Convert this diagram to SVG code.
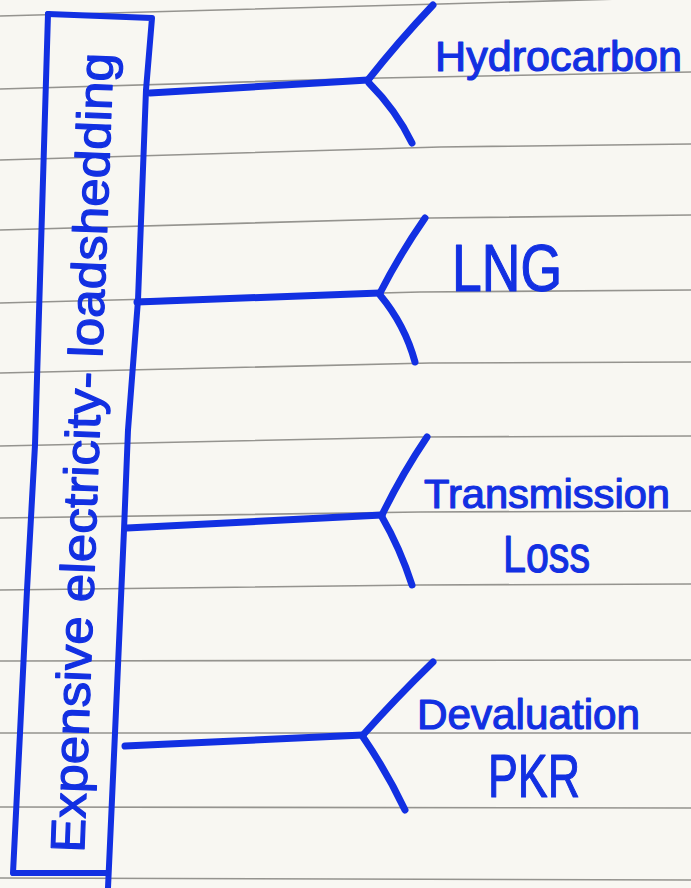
<svg xmlns="http://www.w3.org/2000/svg" width="691" height="888" viewBox="0 0 691 888">
<style>
.paper{fill:#f8f7f2}
.rule{fill:none;stroke:#7c7b76;stroke-width:1.6;opacity:.8}
.ink{fill:none;stroke:#1230e2;stroke-width:7;stroke-linecap:round;stroke-linejoin:round}
.box{fill:none;stroke:#1230e2;stroke-width:6;stroke-linecap:round;stroke-linejoin:round}
.lbl{font-family:"Liberation Sans","DejaVu Sans",sans-serif;fill:#1230e2;stroke:#1230e2;stroke-width:1.2;stroke-linejoin:round}
</style>
<rect class="paper" x="0" y="0" width="691" height="888"/>
<g id="ruled-lines">
<polyline class="rule" points="0,16 440,4 691,-3"/>
<polyline class="rule" points="0,89 380,78 691,72"/>
<polyline class="rule" points="0,160 440,147 691,144"/>
<polyline class="rule" points="0,230 430,218 691,215"/>
<polyline class="rule" points="0,303 420,292 691,290"/>
<polyline class="rule" points="0,373 430,363 691,362"/>
<polyline class="rule" points="0,446 420,437 691,436"/>
<polyline class="rule" points="0,518 420,512 691,511"/>
<polyline class="rule" points="0,590 420,585 691,584"/>
<polyline class="rule" points="0,661 691,660"/>
<polyline class="rule" points="0,733 691,733"/>
<polyline class="rule" points="0,807 691,808"/>
<polyline class="rule" points="0,878 691,880"/>
</g>
<g id="main">
<path class="box" d="M48,14 L152,18 L146,90 L138,300 L128,430 L124,530 L115,733 L108,888"/>
<path class="box" d="M48,14 L35,445 L27,590 L20,733 L13,873 L106,873"/>
<text class="lbl" transform="translate(84,853) rotate(-87.9)" font-size="48" textLength="800" lengthAdjust="spacingAndGlyphs">Expensive electricity- loadshedding</text>
</g>
<g id="connectors">
<path class="ink" d="M150,93 L368,80"/>
<path class="ink" d="M368,80 Q398,42 433,5"/>
<path class="ink" d="M369,83 Q396,110 412,143"/>
<path class="ink" d="M137,302 L380,293"/>
<path class="ink" d="M380,293 Q400,254 425,218"/>
<path class="ink" d="M380,295 Q405,325 415,362"/>
<path class="ink" d="M127,528 L382,515"/>
<path class="ink" d="M382,515 Q402,474 427,437"/>
<path class="ink" d="M382,517 Q400,548 412,585"/>
<path class="ink" d="M125,746 L363,735"/>
<path class="ink" d="M363,735 Q396,698 433,662"/>
<path class="ink" d="M363,737 Q387,772 405,810"/>
</g>
<g id="hydrocarbon">
<text class="lbl" x="435" y="71" font-size="43" textLength="247" lengthAdjust="spacingAndGlyphs">Hydrocarbon</text>
</g>
<g id="lng">
<text class="lbl" x="452" y="291" font-size="66" textLength="110" lengthAdjust="spacingAndGlyphs">LNG</text>
</g>
<g id="transmission-loss">
<text class="lbl" x="424" y="508" font-size="41" textLength="246" lengthAdjust="spacingAndGlyphs">Transmission</text>
<text class="lbl" x="503" y="572" font-size="52" textLength="87" lengthAdjust="spacingAndGlyphs">Loss</text>
</g>
<g id="devaluation-pkr">
<text class="lbl" x="417" y="729" font-size="42" textLength="223" lengthAdjust="spacingAndGlyphs">Devaluation</text>
<text class="lbl" x="488" y="797" font-size="62" textLength="92" lengthAdjust="spacingAndGlyphs">PKR</text>
</g>
</svg>
